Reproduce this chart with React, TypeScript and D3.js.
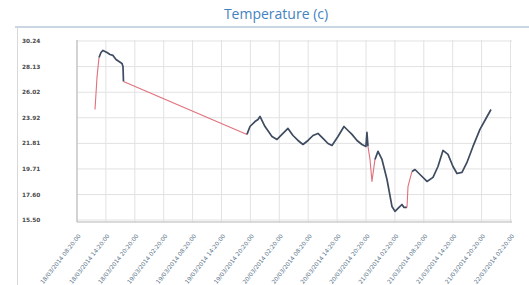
import { useEffect, useRef } from "react";
import * as d3 from "d3";

// x axis tick labels (every 6 hours)
const tickLabels = [
  "18/03/2014 08:20:00",
  "18/03/2014 14:20:00",
  "18/03/2014 20:20:00",
  "19/03/2014 02:20:00",
  "19/03/2014 08:20:00",
  "19/03/2014 14:20:00",
  "19/03/2014 20:20:00",
  "20/03/2014 02:20:00",
  "20/03/2014 08:20:00",
  "20/03/2014 14:20:00",
  "20/03/2014 20:20:00",
  "21/03/2014 02:20:00",
  "21/03/2014 08:20:00",
  "21/03/2014 14:20:00",
  "21/03/2014 20:20:00",
  "22/03/2014 02:20:00",
];

// y axis tick labels
const yTickLabels = ["30.24", "28.13", "26.02", "23.92", "21.81", "19.71", "17.60", "15.50"];

// readings: hours since the first tick, temperature, and whether the segment leading to it is flagged
const hoursSinceStart = [
  3.74, 4.15, 4.57, 4.98, 5.4, 6.23, 6.85, 7.47, 8.1, 8.72, 9.34, 9.55, 9.65,
  35.29, 35.91, 36.95, 37.58, 37.99, 39.03, 40.48, 41.52, 42.14, 42.97, 43.8,
  44.84, 45.88, 46.92, 47.96, 49.0, 50.03, 51.07, 52.11, 52.94, 54.18, 55.43,
  56.26, 57.09, 58.13, 59.17, 59.99, 60.2, 60.41,
  60.83, 61.24, 61.86, 62.49, 63.32, 64.36, 65.39, 66.02, 66.85, 67.47, 67.89,
  68.51, 68.72, 69.55, 70.17, 71.21, 72.66, 73.91, 74.94, 75.98, 77.02, 78.06,
  78.89, 79.93, 80.96, 82.21, 83.66, 84.91, 85.95,
];
const temperature = [
  24.6, 27.24, 28.88, 29.29, 29.46, 29.29, 29.13, 29.05, 28.72, 28.55, 28.39, 28.14, 26.91,
  22.55, 23.2, 23.61, 23.78, 24.03, 23.2, 22.38, 22.13, 22.38, 22.71, 23.04,
  22.46, 22.05, 21.72, 22.05, 22.46, 22.63, 22.22, 21.8, 21.64, 22.38, 23.2,
  22.87, 22.55, 22.05, 21.72, 21.56, 22.71, 21.56,
  20.49, 18.68, 20.49, 21.15, 20.49, 18.84, 16.62, 16.21, 16.54, 16.78, 16.54,
  16.54, 18.27, 19.5, 19.66, 19.25, 18.68, 19.01, 19.91, 21.23, 20.9, 19.91,
  19.33, 19.42, 20.24, 21.56, 22.96, 23.86, 24.6,
];
const flagged = [
  0, 1, 1, 0, 0, 0, 0, 0, 0, 0, 0, 0, 0,
  1, 0, 0, 0, 0, 0, 0, 0, 0, 0, 0,
  0, 0, 0, 0, 0, 0, 0, 0, 0, 0, 0,
  0, 0, 0, 0, 0, 0, 0,
  1, 1, 1, 0, 0, 0, 0, 0, 0, 0, 0,
  0, 1, 1, 0, 0, 0, 0, 0, 0, 0, 0,
  0, 0, 0, 0, 0, 0, 0,
];

export default function App() {
  const svgRef = useRef<SVGSVGElement>(null);

  useEffect(() => {
    const width = 529;
    const height = 285;
    const svg = d3.select(svgRef.current).attr("width", width).attr("height", height);
    svg.selectAll("*").remove();

    const parse = d3.timeParse("%d/%m/%Y %H:%M:%S");
    const ticks = tickLabels.map((t) => parse(t)!);
    const start = ticks[0];
    const data = hoursSinceStart.map((h, i) => ({
      date: new Date(start.getTime() + h * 3600 * 1000),
      value: temperature[i],
      flag: flagged[i] === 1,
    }));

    const plot = { left: 77, right: 512, top: 40, bottom: 222 };

    const x = d3
      .scaleTime()
      .domain([ticks[0], ticks[ticks.length - 1]])
      .range([77, 510.5]);

    const y = d3.scaleLinear().domain([15.34, 30.32]).range([plot.bottom, plot.top]);

    // frame of the panel
    svg.append("rect").attr("width", width).attr("height", height).attr("fill", "#fff");
    svg
      .append("line")
      .attr("x1", 15)
      .attr("x2", width)
      .attr("y1", 27)
      .attr("y2", 27)
      .attr("stroke", "#b9c9d9")
      .attr("stroke-width", 1.5);
    svg
      .append("line")
      .attr("x1", 17.5)
      .attr("x2", 17.5)
      .attr("y1", 27)
      .attr("y2", height)
      .attr("stroke", "#d8d8d8");

    // title
    svg
      .append("text")
      .attr("x", 276)
      .attr("y", 19)
      .attr("text-anchor", "middle")
      .attr("font-family", "Open Sans, sans-serif")
      .attr("font-size", 14)
      .attr("fill", "#4583bf")
      .text("Temperature (c)");

    // grid
    svg
      .append("g")
      .selectAll("line")
      .data(ticks)
      .join("line")
      .attr("x1", (d) => x(d))
      .attr("x2", (d) => x(d))
      .attr("y1", plot.top)
      .attr("y2", plot.bottom)
      .attr("stroke", "#e2e2e2");
    const yVals = yTickLabels.map((s) => +s);
    svg
      .append("g")
      .selectAll("line")
      .data(yVals)
      .join("line")
      .attr("x1", plot.left)
      .attr("x2", plot.right)
      .attr("y1", (d) => y(d))
      .attr("y2", (d) => y(d))
      .attr("stroke", "#e2e2e2");

    // axes lines
    svg
      .append("line")
      .attr("x1", plot.left)
      .attr("x2", plot.left)
      .attr("y1", plot.top)
      .attr("y2", plot.bottom)
      .attr("stroke", "#b5b5b5");
    svg
      .append("line")
      .attr("x1", plot.left)
      .attr("x2", plot.right)
      .attr("y1", plot.bottom)
      .attr("y2", plot.bottom)
      .attr("stroke", "#b5b5b5");

    // y labels
    svg
      .append("g")
      .selectAll("text")
      .data(yTickLabels)
      .join("text")
      .attr("x", 22)
      .attr("y", (d) => y(+d) + 2)
      .attr("font-family", "DejaVu Sans, sans-serif")
      .attr("font-size", 5.8)
      .attr("font-weight", "bold")
      .attr("fill", "#4a4a4a")
      .text((d) => d);

    // x labels
    svg
      .append("g")
      .selectAll("text")
      .data(ticks)
      .join("text")
      .attr("transform", (d) => `translate(${x(d) + 4}, 236) rotate(-52)`)
      .attr("text-anchor", "end")
      .attr("font-family", "DejaVu Sans, sans-serif")
      .attr("font-size", 5.8)
      .attr("fill", "#557085")
      .text((_, i) => tickLabels[i]);

    // line, split into coloured runs
    const line = d3
      .line<{ date: Date; value: number }>()
      .x((d) => x(d.date))
      .y((d) => y(d.value));

    const runs: { flag: boolean; pts: typeof data }[] = [];
    for (let i = 1; i < data.length; i++) {
      const f = data[i].flag;
      const last = runs[runs.length - 1];
      if (last && last.flag === f) last.pts.push(data[i]);
      else runs.push({ flag: f, pts: [data[i - 1], data[i]] });
    }

    svg
      .append("g")
      .selectAll("path")
      .data(runs)
      .join("path")
      .attr("d", (r) => line(r.pts))
      .attr("fill", "none")
      .attr("stroke", (r) => (r.flag ? "#e0707c" : "#3e4b60"))
      .attr("stroke-width", (r) => (r.flag ? 1.1 : 1.7))
      .attr("stroke-linejoin", "round");
  }, []);

  return (
    <svg
      ref={svgRef}
      style={{ position: "absolute", left: 0, top: 0, display: "block" }}
    />
  );
}
